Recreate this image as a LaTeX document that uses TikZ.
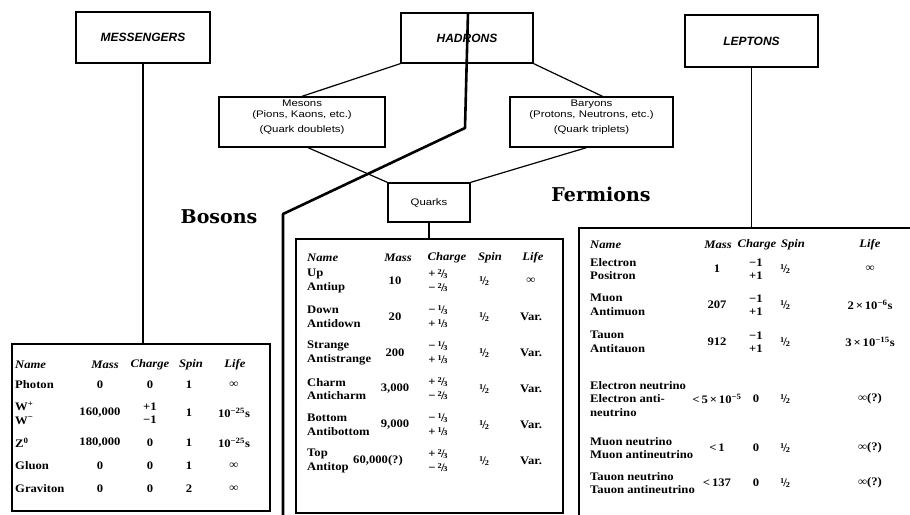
\documentclass[tikz,border=0pt]{standalone}
\usepackage{fontspec}
\setmainfont{Liberation Serif}
\newfontfamily\tabfont{Liberation Serif}[FakeStretch=1.1]
\newfontfamily\labfont{Liberation Sans}
\newfontfamily\smallfont{Liberation Sans}[FakeStretch=1.2]
\newfontfamily\bigfont{DejaVu Serif}
\usetikzlibrary{calc}
\newcommand\qfr[2]{\raisebox{.5ex}{\fontsize{7.5}{7.5}\selectfont #1}\kern-.06em/\kern-.1em\raisebox{-.15ex}{\fontsize{7.5}{7.5}\selectfont #2}}
\newcommand\trowh[2]{%
  \node[hdr,anchor=west] (#1n) at (\xN,#2) {Name};
  \node[hdr] (#1m) at (\xM,#2) {Mass};
  \node[hdr] (#1c) at (\xC,#2) {Charge};
  \node[hdr] (#1s) at (\xS,#2) {Spin};
  \node[hdr] (#1l) at (\xL,#2) {Life};}
\newcommand\trow[7]{%
  \node[nm] (#1n) at (\xN,#2) {#3};
  \node[cell] (#1m) at (\xm,#2) {#4};
  \node[cell] (#1c) at (\xc,#2) {#5};
  \node[cell] (#1s) at (\xs,#2) {#6};
  \node[cell] (#1l) at (\xl,#2) {#7};}
\tikzset{
  box/.style={draw, line width=1.3pt, inner sep=0pt},
  tabbox/.style={draw, line width=1.6pt, inner sep=0pt, anchor=north west},
  conn/.style={line width=1.2pt},
  divider/.style={line width=2.6pt, line join=round},
  boxlab/.style={font=\labfont\bfseries\itshape\fontsize{12}{14}\selectfont},
  sublab/.style={font=\smallfont\fontsize{9.5}{11}\selectfont, inner sep=0pt, align=center},
  hdr/.style={font=\tabfont\bfseries\itshape\fontsize{11.5}{13}\selectfont, inner sep=0pt},
  cell/.style={font=\tabfont\bfseries\fontsize{11.5}{13.5}\selectfont, inner sep=0pt, align=center},
  nm/.style={cell, anchor=west, align=left},
  big/.style={font=\bigfont\bfseries\fontsize{19}{22}\selectfont, inner sep=0pt},
}
\begin{document}
\begin{tikzpicture}[x=1pt,y=-1pt]
\useasboundingbox (0,0) rectangle (910,514);
\clip (0,0) rectangle (910,514);
% top boxes
\node[box, boxlab, minimum width=134pt, minimum height=51pt] (mess) at (143,37.5) {MESSENGERS};
\node[box, boxlab, minimum width=132pt, minimum height=50pt] (had) at (467,38) {HADRONS};
\node[box, boxlab, minimum width=133pt, minimum height=52pt] (lep) at (751.5,41) {LEPTONS};
\node[box, minimum width=166pt, minimum height=50pt] (mes) at (302,122) {};
\node[box, minimum width=163pt, minimum height=50pt] (bar) at (591.5,122) {};
\node[sublab, anchor=north] (mestx) at ([yshift=-3pt]mes.north) {Mesons\\(Pions, Kaons, etc.)\\[4pt](Quark doublets)};
\node[sublab, anchor=north] (bartx) at ([yshift=-3pt]bar.north) {Baryons\\(Protons, Neutrons, etc.)\\[4pt](Quark triplets)};
\node[box, sublab, minimum width=82pt, minimum height=39pt] (qk) at (429,202.5) {Quarks};
% big labels
\node[big] (boson) at (219,217) {Bosons};
\node[big] (fermi) at (601,194) {Fermions};
% tables
\node[tabbox, minimum width=258pt, minimum height=167pt] (btab) at (11,343) {};
\node[tabbox, minimum width=267pt, minimum height=274pt] (qtab) at (295,238) {};
\node[tabbox, minimum width=340pt, minimum height=300pt] (ltab) at (578,227) {};
% connectors
\draw[conn] (mess.south) -- (mess.south |- btab.north);
\draw[conn] (lep.south) -- (lep.south |- ltab.north);
\draw[conn] (qk.south) -- (qk.south |- qtab.north);
\draw[conn] (had.south west) -- (mes.north);
\draw[conn] (had.south east) -- ([xshift=11pt]bar.north);
\draw[conn] ([xshift=6pt]mes.south) -- (qk.north west);
\draw[conn] ([xshift=-5pt]bar.south) -- (qk.north east);
% divider
\coordinate (d1) at ([xshift=1pt]had.north);
\coordinate (d2) at (465,128);
\coordinate (d3) at (283,214);
\coordinate (d4) at (283,520);
\draw[divider] (d1) -- (d2) -- (d3) -- (d4);
% bosons table
\def\xN{15}\def\xM{105}\def\xC{150}\def\xS{191}\def\xL{235}
\def\xm{100}\def\xc{150}\def\xs{189}\def\xl{234}
\trowh{bh}{365}
\trow{ba}{385}{Photon}{0}{0}{1}{∞}
\trow{bb}{413}{W\textsuperscript{+}\\W\textsuperscript{−}}{160,000}{+1\\−1}{1}{10\textsuperscript{−25}s}
\trow{bc}{443}{Z\textsuperscript{0}}{180,000}{0}{1}{10\textsuperscript{−25}s}
\trow{bd}{466}{Gluon}{0}{0}{1}{∞}
\trow{be}{489}{Graviton}{0}{0}{2}{∞}
% quark table
\def\xN{307}\def\xM{398}\def\xC{447}\def\xS{490}\def\xL{533}
\def\xm{395}\def\xc{438}\def\xs{484}\def\xl{531}
\trowh{qh}{258}
\trow{qa}{281}{Up\\Antiup}{10}{+\,\qfr23\\−\,\qfr23}{\qfr12}{∞}
\trow{qb}{317}{Down\\Antidown}{20}{−\,\qfr13\\+\,\qfr13}{\qfr12}{Var.}
\trow{qc}{353}{Strange\\Antistrange}{200}{−\,\qfr13\\+\,\qfr13}{\qfr12}{Var.}
\trow{qd}{389}{Charm\\Anticharm}{3,000}{+\,\qfr23\\−\,\qfr23}{\qfr12}{Var.}
\trow{qe}{425}{Bottom\\Antibottom}{9,000}{−\,\qfr13\\+\,\qfr13}{\qfr12}{Var.}
\def\xm{378}
\trow{qf}{461}{Top\\Antitop}{60,000(?)}{+\,\qfr23\\−\,\qfr23}{\qfr12}{Var.}
% lepton table
\def\xN{590}\def\xM{718}\def\xC{757}\def\xS{793}\def\xL{870}
\def\xm{717}\def\xc{756}\def\xs{785}\def\xl{870}
\trowh{lh}{245}
\trow{la}{269}{Electron\\Positron}{1}{−1\\+1}{\qfr12}{∞}
\trow{lb}{305}{Muon\\Antimuon}{207}{−1\\+1}{\qfr12}{2\,×\,10\textsuperscript{−6}s}
\trow{lc}{342}{Tauon\\Antitauon}{912}{−1\\+1}{\qfr12}{3\,×\,10\textsuperscript{−15}s}
\trow{ld}{399}{Electron neutrino\\Electron anti-\\neutrino}{<\,5\,×\,10\textsuperscript{−5}}{0}{\qfr12}{∞(?)}
\trow{le}{448}{Muon neutrino\\Muon antineutrino}{<\,1}{0}{\qfr12}{∞(?)}
\trow{lf}{483}{Tauon neutrino\\Tauon antineutrino}{<\,137}{0}{\qfr12}{∞(?)}
\end{tikzpicture}
\end{document}
